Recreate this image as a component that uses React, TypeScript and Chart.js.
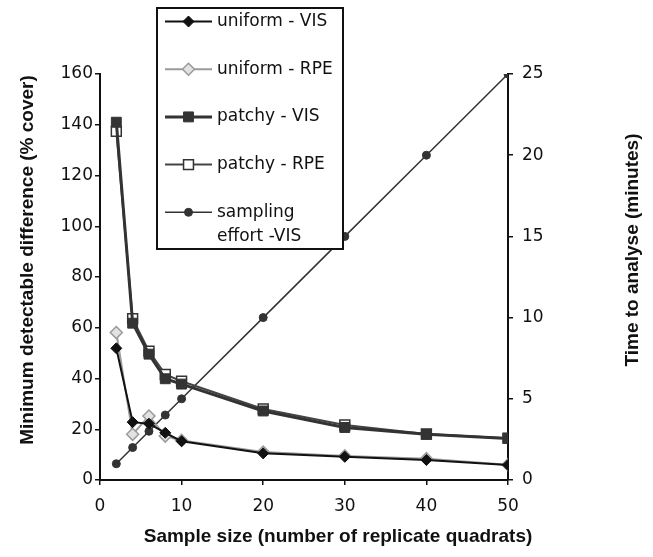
import React, { useEffect, useRef } from "react";
import { Chart, registerables } from "chart.js";
import { drawPoint } from "chart.js/helpers";

Chart.register(...registerables);

// ---- data ----
const sampleSizes = [2, 4, 6, 8, 10, 20, 30, 40, 50];
const uniformVIS = [51.9, 22.8, 22.2, 18.6, 15.3, 10.5, 9.2, 7.9, 5.9];
const uniformRPE = [58.1, 18.0, 25.2, 17.3, 15.6, 11.0, 9.5, 8.4, 6.0];
const patchyVIS = [141, 61.8, 49.6, 39.9, 37.8, 27.2, 20.7, 18.0, 16.4];
const patchyRPE = [137.4, 63.6, 50.8, 41.6, 38.9, 28.0, 21.7, 18.1, 16.5];
const samplingEffort = [1, 2, 3, 4, 5, 10, 15, 20, 25];

const seriesLabels = ["uniform - VIS", "uniform - RPE", "patchy - VIS", "patchy - RPE", "sampling effort -VIS"];
const legendLines = [["uniform - VIS"], ["uniform - RPE"], ["patchy - VIS"], ["patchy - RPE"], ["sampling", "effort -VIS"]];

const xTitle = "Sample size (number of replicate quadrats)";
const yTitle = "Minimum detectable difference (% cover)";
const y2Title = "Time to analyse (minutes)";

const toPts = (vals: number[]) => vals.map((v, i) => ({ x: sampleSizes[i], y: v }));

const TITLE_FONT = "bold 19px 'Liberation Sans'";

const decorPlugin = {
  id: "boxLegendAndTitles",
  afterDraw(chart: any) {
    const ctx = chart.ctx;
    ctx.save();
    // axis titles
    ctx.fillStyle = "#111";
    ctx.font = TITLE_FONT;
    ctx.textAlign = "center";
    ctx.textBaseline = "middle";
    ctx.fillText(xTitle, 338, 537);
    ctx.save();
    ctx.translate(28, 260);
    ctx.rotate(-Math.PI / 2);
    ctx.fillText(yTitle, 0, 0);
    ctx.restore();
    ctx.save();
    ctx.translate(633, 250);
    ctx.rotate(-Math.PI / 2);
    ctx.fillText(y2Title, 0, 0);
    ctx.restore();

    // legend box
    const left = 157, top = 8, right = 343, bottom = 249;
    ctx.fillStyle = "#fff";
    ctx.fillRect(left, top, right - left, bottom - top);
    ctx.strokeStyle = "#111";
    ctx.lineWidth = 2;
    ctx.strokeRect(left, top, right - left, bottom - top);
    const startY = 21.5;
    const step = 47.7;
    chart.data.datasets.forEach((ds: any, i: number) => {
      const y = startY + i * step;
      ctx.beginPath();
      ctx.strokeStyle = ds.borderColor;
      ctx.lineWidth = ds.borderWidth;
      ctx.moveTo(165, y);
      ctx.lineTo(212, y);
      ctx.stroke();
      ctx.fillStyle = ds.pointBackgroundColor;
      ctx.strokeStyle = ds.pointBorderColor;
      ctx.lineWidth = ds.pointBorderWidth;
      drawPoint(ctx, { pointStyle: ds.pointStyle, radius: ds.pointRadius, rotation: 0, borderWidth: ds.pointBorderWidth }, 188.5, y);
      ctx.fillStyle = "#111";
      ctx.font = "17px 'DejaVu Sans'";
      ctx.textBaseline = "middle";
      ctx.textAlign = "left";
      legendLines[i].forEach((t, j) => ctx.fillText(t, 217, y + j * 24));
    });
    ctx.restore();
  },
};

export default function App() {
  const ref = useRef<HTMLCanvasElement | null>(null);
  useEffect(() => {
    document.body.style.margin = "0";
    if (!ref.current) return;
    const tickFont = { family: "'DejaVu Sans'", size: 17 };
    const axisCommon = {
      grid: { drawOnChartArea: false, drawTicks: true, tickLength: 5, color: "#111", lineWidth: 1.5 },
      border: { display: true, color: "#111", width: 2 },
    };
    const chart = new Chart(ref.current, {
      type: "line",
      data: {
        datasets: [
          {
            label: seriesLabels[0],
            data: toPts(uniformVIS),
            borderColor: "#111",
            borderWidth: 2,
            pointStyle: "rectRot",
            pointRadius: 5.5,
            pointBackgroundColor: "#111",
            pointBorderColor: "#111",
            pointBorderWidth: 1,
            yAxisID: "y",
          },
          {
            label: seriesLabels[1],
            data: toPts(uniformRPE),
            borderColor: "#9a9a9a",
            borderWidth: 2,
            pointStyle: "rectRot",
            pointRadius: 6,
            pointBackgroundColor: "#e2e2e2",
            pointBorderColor: "#9a9a9a",
            pointBorderWidth: 1.5,
            yAxisID: "y",
          },
          {
            label: seriesLabels[2],
            data: toPts(patchyVIS),
            borderColor: "#333",
            borderWidth: 3,
            pointStyle: "rect",
            pointRadius: 7,
            pointBackgroundColor: "#333",
            pointBorderColor: "#333",
            pointBorderWidth: 1,
            yAxisID: "y",
          },
          {
            label: seriesLabels[3],
            data: toPts(patchyRPE),
            borderColor: "#444",
            borderWidth: 2,
            pointStyle: "rect",
            pointRadius: 7,
            pointBackgroundColor: "#fff",
            pointBorderColor: "#333",
            pointBorderWidth: 1.5,
            yAxisID: "y",
          },
          {
            label: seriesLabels[4],
            data: toPts(samplingEffort),
            borderColor: "#333",
            borderWidth: 1.5,
            pointStyle: "circle",
            pointRadius: 4,
            pointBackgroundColor: "#333",
            pointBorderColor: "#333",
            pointBorderWidth: 1,
            yAxisID: "y2",
          },
        ],
      },
      options: {
        animation: false,
        responsive: false,
        layout: { padding: { top: 74, left: 0, right: 0, bottom: 0 } },
        plugins: { legend: { display: false }, tooltip: { enabled: false } },
        scales: {
          x: {
            type: "linear",
            position: "bottom",
            min: 0,
            max: 50,
            ticks: { stepSize: 10, color: "#111", font: tickFont, padding: 11, maxRotation: 0 },
            title: { display: false },
            afterFit: (s: any) => { s.height = 77; },
            ...axisCommon,
          },
          y: {
            type: "linear",
            position: "left",
            min: 0,
            max: 160,
            ticks: { stepSize: 20, color: "#111", font: tickFont, padding: 2 },
            title: { display: false },
            afterFit: (s: any) => { s.width = 100; },
            ...axisCommon,
          },
          y2: {
            type: "linear",
            position: "right",
            min: 0,
            max: 25,
            ticks: { stepSize: 5, color: "#111", font: tickFont, padding: 9 },
            title: { display: false },
            afterFit: (s: any) => { s.width = 145; },
            ...axisCommon,
          },
        },
      },
      plugins: [decorPlugin],
    });
    return () => chart.destroy();
  }, []);
  return <canvas ref={ref} width={653} height={557} style={{ display: "block" }} />;
}
